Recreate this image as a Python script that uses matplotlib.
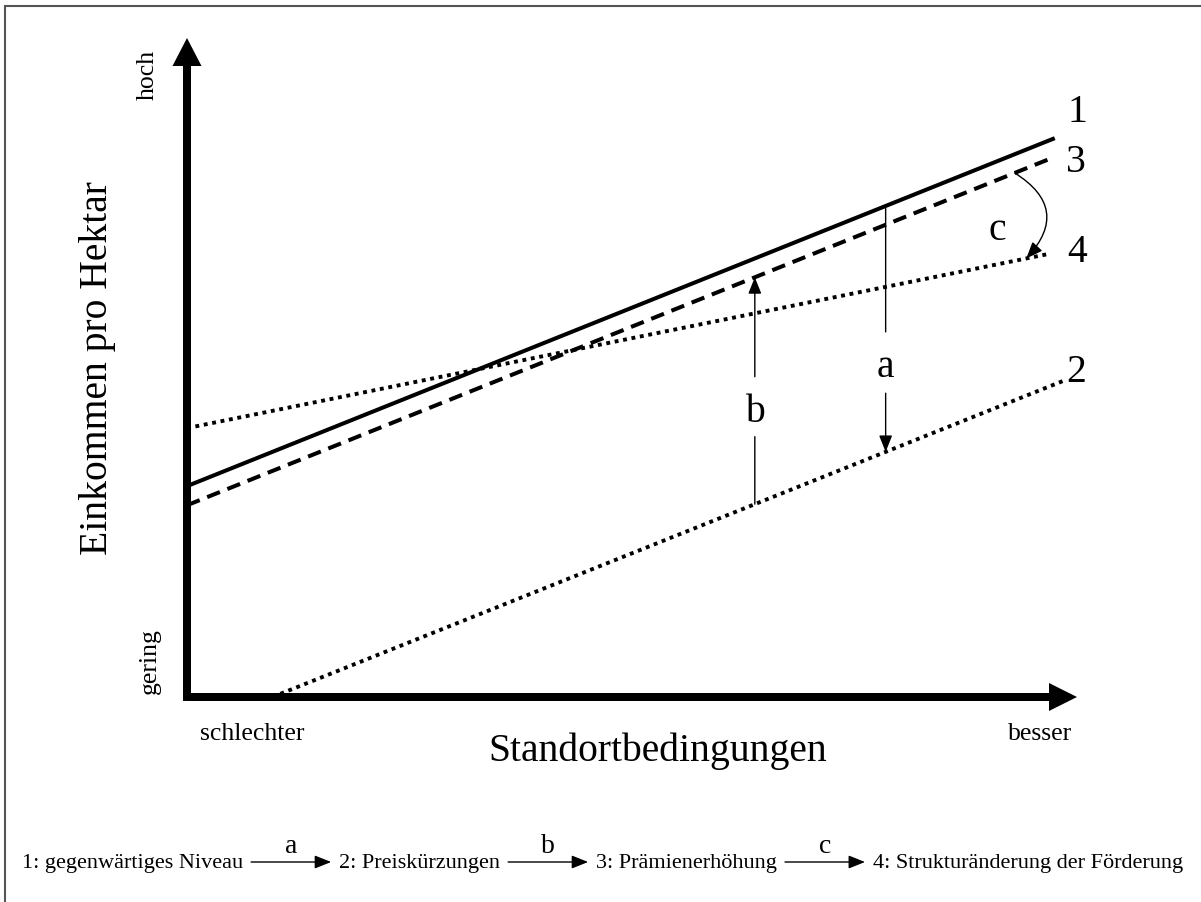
import numpy as np
import matplotlib
matplotlib.use("Agg")
from matplotlib import pyplot as plt
from matplotlib.patches import FancyArrow, FancyArrowPatch, Rectangle

plt.rcParams['font.family'] = ['Liberation Serif', 'DejaVu Serif']

# schematic lines: x = Standortbedingungen (0..1), y = Einkommen pro Hektar (0..1)
x_1 = [0.0, 0.975]
niveau_1 = [0.320, 0.848]
x_3 = [0.0, 0.972]
praemie_3 = [0.291, 0.818]
x_4 = [0.0, 0.967]
struktur_4 = [0.408, 0.672]
x_2 = [0.096, 0.987]
preis_2 = [0.0, 0.481]

# where the effect arrows sit on the x axis
x_a = 0.785
x_b = 0.638
x_c = [0.930, 0.943]

legend_items = ["1: gegenwärtiges Niveau", "2: Preiskürzungen",
                "3: Prämienerhöhung", "4: Strukturänderung der Förderung"]
legend_steps = ["a", "b", "c"]

W, H = 1201, 902
fig = plt.figure(figsize=(W / 100, H / 100), dpi=100)


def fx(px):
    return px / W


def fy(py):
    return (H - py) / H


# outer frame
fig.patches.append(Rectangle((fx(5), fy(H + 10)), 1.0, fy(6) - fy(H + 10),
                             transform=fig.transFigure, fill=False,
                             edgecolor='#555555', lw=1.5))

ax = fig.add_axes([187 / W, 205 / H, 890 / W, 659 / H])
ax.set_xlim(0, 1)
ax.set_ylim(0, 1)
ax.axis('off')

# axis arrows
ax.add_patch(FancyArrow(0, -0.006, 0, 1.006, width=8 / 890, head_width=29 / 890,
                        head_length=28 / 659, length_includes_head=True,
                        color='k', lw=0, clip_on=False))
ax.add_patch(FancyArrow(0.002, 0, 0.998, 0, width=8 / 659, head_width=28 / 659,
                        head_length=28 / 890, length_includes_head=True,
                        color='k', lw=0, clip_on=False))

ax.plot(x_1, niveau_1, color='k', lw=2.9, solid_capstyle='butt')
ax.plot(x_3, praemie_3, color='k', lw=2.9, dashes=(3.4, 2.0))
ax.plot(x_4, struktur_4, color='k', lw=2.8, dashes=(1.0, 1.2))
ax.plot(x_2, preis_2, color='k', lw=2.8, dashes=(1.0, 1.2))


def on(xs, ys, x):
    return np.interp(x, xs, ys)


head = dict(arrowstyle='-|>,head_length=1.0,head_width=0.4', mutation_scale=10,
            lw=1, color='k', shrinkA=0, shrinkB=0)
thin = dict(arrowstyle='-', lw=1, color='k', shrinkA=0, shrinkB=0)

# a: 1 -> 2
ax.annotate('', xy=(x_a, 0.554), xytext=(x_a, on(x_1, niveau_1, x_a)), arrowprops=thin)
ax.annotate('', xy=(x_a, on(x_2, preis_2, x_a)), xytext=(x_a, 0.461), arrowprops=head)
ax.text(x_a, 0.485, 'a', fontsize=28.5, ha='center', va='baseline')

# b: 2 -> 3
ax.annotate('', xy=(x_b, 0.395), xytext=(x_b, on(x_2, preis_2, x_b)), arrowprops=thin)
ax.annotate('', xy=(x_b, on(x_3, praemie_3, x_b)), xytext=(x_b, 0.486), arrowprops=head)
ax.text(x_b, 0.417, 'b', fontsize=28.5, ha='center', va='baseline')

# c: 3 -> 4
ax.annotate('', xy=(x_c[1], on(x_4, struktur_4, x_c[1])),
            xytext=(x_c[0], on(x_3, praemie_3, x_c[0])),
            arrowprops=dict(head, connectionstyle='arc3,rad=-0.6'))
ax.text(0.910, 0.694, 'c', fontsize=28.5, ha='center', va='baseline')

# line numbers
for lab, px, py in [('1', 1077, 122), ('3', 1076, 172), ('4', 1077, 262), ('2', 1076, 382)]:
    fig.text(fx(px), fy(py), lab, fontsize=28.5, ha='center', va='baseline')

fig.text(fx(97), fy(368), 'Einkommen pro Hektar', fontsize=28.5, rotation=90,
         ha='center', va='center')
fig.text(fx(658), fy(761), 'Standortbedingungen', fontsize=28.5, ha='center', va='baseline')
fig.text(fx(148), fy(75), 'hoch', fontsize=18.5, rotation=90, ha='center', va='center')
fig.text(fx(150), fy(661), 'gering', fontsize=18.5, rotation=90, ha='center', va='center')
fig.text(fx(252), fy(740), 'schlechter', fontsize=18.5, ha='center', va='baseline')
fig.text(fx(1040), fy(740), 'besser', fontsize=18.5, ha='center', va='baseline')

# legend chain along the bottom
renderer = fig.canvas.get_renderer()
x0 = 22
arrow_len = 80
gap = 8
for i, item in enumerate(legend_items):
    t = fig.text(fx(x0), fy(868), item, fontsize=16, ha='left', va='baseline')
    x1 = t.get_window_extent(renderer).x1
    if i < len(legend_steps):
        xs = x1 + gap
        fig.add_artist(FancyArrowPatch(
            (fx(xs), fy(862)), (fx(xs + arrow_len), fy(862)),
            transform=fig.transFigure, **head))
        fig.text(fx(xs + arrow_len / 2), fy(853), legend_steps[i], fontsize=20,
                 ha='center', va='baseline')
        x0 = xs + arrow_len + gap

fig.savefig('out.png', dpi=100)
